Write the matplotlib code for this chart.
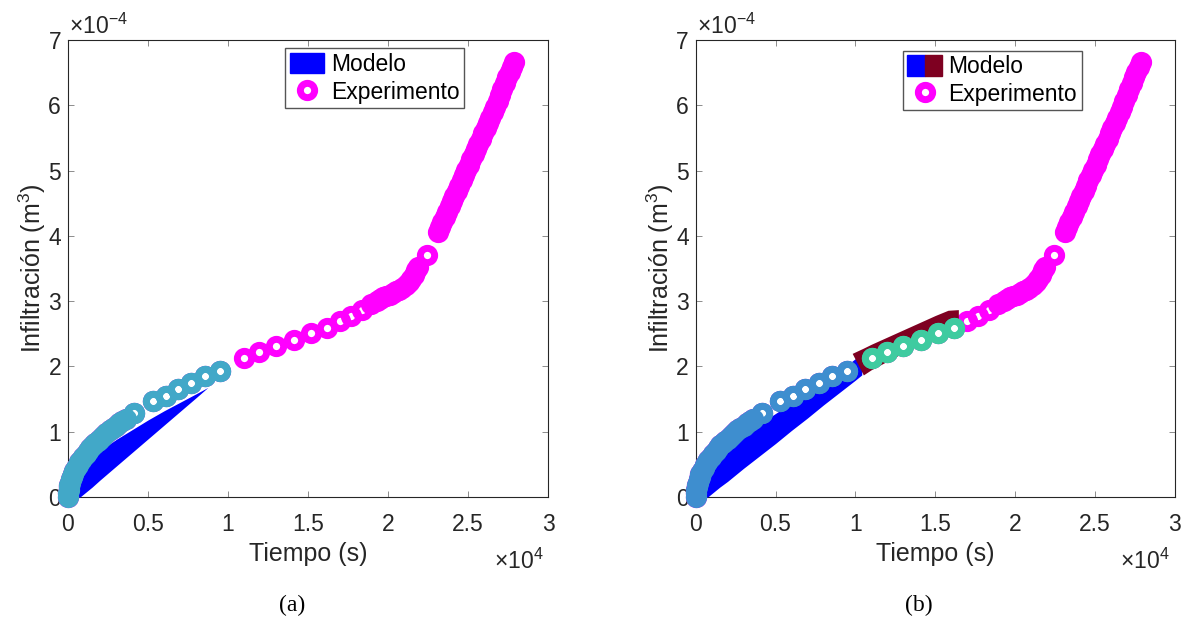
import numpy as np
import matplotlib
matplotlib.use("Agg")
import matplotlib.pyplot as plt
from matplotlib.patches import Patch
from matplotlib.lines import Line2D
from matplotlib.legend_handler import HandlerTuple
from matplotlib.ticker import FormatStrFormatter

plt.rcParams["font.family"] = ["Liberation Sans", "DejaVu Sans"]
plt.rcParams["mathtext.fontset"] = "custom"
plt.rcParams["mathtext.rm"] = "Liberation Sans"
plt.rcParams["mathtext.it"] = "Liberation Sans:italic"

# ensayo de infiltración: tiempo (s) e infiltración acumulada (x1e-4 m3)
exp_t = [0, 20, 40, 60, 90, 120, 180, 240, 300, 400, 500, 600, 700, 800, 950,
         1100, 1250, 1400, 1550, 1700, 1850, 2000, 2200, 2400, 2600, 2800,
         3000, 3200, 3400, 3600,
         4150, 5290, 6120, 6850, 7700, 8560, 9500,
         11020, 11960, 13000, 14120, 15180, 16190, 17000, 17700, 18400, 18920,
         19300, 19500, 19700, 19900, 20100, 20300, 20500, 20700, 20900, 21100,
         21300, 21450, 21600, 21750, 21900,
         22420,
         23100, 23250, 23400, 23550, 23700, 23850, 24000, 24150, 24300, 24450,
         24600, 24750, 24900, 25050, 25200, 25350, 25500, 25650, 25800, 25950,
         26100, 26250, 26400, 26550, 26700, 26850, 27000, 27150, 27300, 27450,
         27600, 27750, 27900]
exp_i = [0.00, 0.06, 0.11, 0.15, 0.19, 0.22, 0.27, 0.31, 0.35, 0.40, 0.45,
         0.49, 0.53, 0.57, 0.62,
         0.66, 0.71, 0.75, 0.79, 0.82, 0.86, 0.89, 0.94, 0.98, 1.02, 1.06,
         1.09, 1.13, 1.16, 1.20,
         1.29, 1.47, 1.55, 1.66, 1.74, 1.85, 1.93,
         2.13, 2.22, 2.31, 2.41, 2.51, 2.59, 2.70, 2.78, 2.86, 2.96,
         3.00, 3.03, 3.06, 3.08, 3.10, 3.12, 3.15, 3.17, 3.20, 3.24,
         3.29, 3.34, 3.40, 3.47, 3.53,
         3.71,
         4.06, 4.13, 4.21, 4.29, 4.37, 4.45, 4.53, 4.61, 4.69, 4.77,
         4.85, 4.93, 5.01, 5.09, 5.17, 5.25, 5.33, 5.41, 5.49, 5.57,
         5.65, 5.73, 5.81, 5.89, 5.98, 6.07, 6.16, 6.25, 6.34, 6.43,
         6.51, 6.59, 6.66]

# modelo (a): banda entre curva superior e inferior
mod_a_t = [0, 250, 750, 1000, 1500, 2000, 3000, 4000, 5000, 6000, 7000, 8000, 8750]
mod_a_sup = [0.00, 0.25, 0.45, 0.52, 0.62, 0.71, 0.88, 1.03, 1.18, 1.32, 1.45, 1.58, 1.68]
mod_a_inf = [0.00, 0.00, 0.00, 0.05, 0.15, 0.26, 0.47, 0.68, 0.89, 1.10, 1.31, 1.52, 1.68]

# modelo (b): dos tramos
mod_b1_t = [0, 250, 750, 1000, 1500, 2000, 3000, 4000, 5000, 6000, 7000, 8000, 9000, 10000, 10400]
mod_b1_sup = [0.00, 0.28, 0.50, 0.57, 0.69, 0.79, 0.96, 1.12, 1.28, 1.44, 1.60, 1.76, 1.93, 2.12, 2.18]
mod_b1_inf = [0.00, 0.00, 0.00, 0.05, 0.15, 0.24, 0.44, 0.63, 0.82, 1.02, 1.21, 1.41, 1.60, 1.79, 1.87]

mod_b2_t = [9800, 10500, 11000, 12000, 13000, 14000, 15000, 15800, 16450]
mod_b2_sup = [2.20, 2.28, 2.34, 2.45, 2.56, 2.67, 2.78, 2.86, 2.87]
mod_b2_inf = [2.20, 1.87, 1.95, 2.08, 2.21, 2.34, 2.47, 2.57, 2.66]

# ventanas de ajuste (s)
ajuste_1 = (0, 10000)
ajuste_2 = (10500, 16500)

MAGENTA = "#FF00FF"
AZUL = "#0000FF"
GRANATE = "#7E0021"
CIAN_A = "#42A8C8"
CIAN_B = "#3E8ECF"
VERDE = "#3FCBA0"
EJE = "#262626"

MS = 10.3
MEW = 5.0

t = np.array(exp_t) / 1e4
inf = np.array(exp_i)
t_s = np.array(exp_t)

# puntos sueltos: separados de sus vecinos más de 300 s
gap = np.diff(t_s)
aislado = np.minimum(np.r_[np.inf, gap], np.r_[gap, np.inf]) > 300


def circulos(ax, mask, color, fondo=False):
    # con fondo=True los puntos sueltos tapan con blanco lo que haya debajo
    if fondo:
        sel = mask & aislado
        ax.plot(t[sel], inf[sel], "o", ls="none", ms=MS, mew=MEW, mfc="white",
                mec=color, clip_on=False, zorder=3)
    ax.plot(t[mask], inf[mask], "o", ls="none", ms=MS, mew=MEW, mfc="none",
            mec=color, clip_on=False, zorder=3)


def estilo(ax):
    ax.set_xlim(0, 3)
    ax.set_ylim(0, 7)
    ax.set_xticks([0, 0.5, 1, 1.5, 2, 2.5, 3])
    ax.set_yticks(range(8))
    ax.xaxis.set_major_formatter(FormatStrFormatter("%g"))
    ax.yaxis.set_major_formatter(FormatStrFormatter("%g"))
    ax.tick_params(direction="in", length=4, width=0.7, top=True, right=True,
                   labelsize=16.5, labelcolor=EJE, color="#8c8c8c")
    ax.tick_params(axis="x", pad=11.5)
    ax.tick_params(axis="y", pad=5)
    for sp in ax.spines.values():
        sp.set_color(EJE)
        sp.set_linewidth(0.8)
    ax.set_xlabel("Tiempo (s)", fontsize=18, color=EJE, labelpad=4)
    ax.set_ylabel("Infiltración (m$^3$)", fontsize=18, color=EJE, labelpad=0)
    ax.annotate(r"$\times10^{-4}$", xy=(0, 1), xycoords="axes fraction",
                xytext=(1, 1), textcoords="offset points", ha="left",
                va="bottom", fontsize=16.5, color=EJE)
    ax.annotate(r"$\times10^{4}$", xy=(1, 0), xycoords="axes fraction",
                xytext=(-3.5, -52), textcoords="offset points", ha="right",
                va="baseline", fontsize=16.5, color=EJE)


fig = plt.figure(figsize=(11.85, 6.18), dpi=100)
ax_a = fig.add_axes([68 / 1185, 121 / 618, 480 / 1185, 457 / 618])
ax_b = fig.add_axes([695.7 / 1185, 121 / 618, 479 / 1185, 457 / 618])

todos = np.ones_like(t_s, dtype=bool)
m1 = (t_s >= ajuste_1[0]) & (t_s <= ajuste_1[1])
m2 = (t_s >= ajuste_2[0]) & (t_s <= ajuste_2[1])

# (a) un solo tramo
circulos(ax_a, todos, MAGENTA)
ax_a.fill_between(np.array(mod_a_t) / 1e4, mod_a_inf, mod_a_sup, color=AZUL,
                  lw=0, zorder=3)
circulos(ax_a, m1, CIAN_A, fondo=True)
estilo(ax_a)
h_exp = Line2D([], [], marker="o", ls="none", ms=MS, mew=MEW, mfc="none", mec=MAGENTA)
ax_a.legend([Patch(color=AZUL), h_exp], ["Modelo", "Experimento"],
            loc="upper right", bbox_to_anchor=(0.825, 0.982), fontsize=16.5,
            fancybox=False, edgecolor="#555555", framealpha=1,
            handlelength=1.5, handleheight=1.0, handletextpad=0.3,
            borderpad=0.2, borderaxespad=0, labelspacing=0.2)

# (b) dos tramos
circulos(ax_b, todos, MAGENTA)
ax_b.fill_between(np.array(mod_b1_t) / 1e4, mod_b1_inf, mod_b1_sup, color=AZUL,
                  lw=0, zorder=3)
ax_b.fill_between(np.array(mod_b2_t) / 1e4, mod_b2_inf, mod_b2_sup, color=GRANATE,
                  lw=0, zorder=3)
circulos(ax_b, m1, CIAN_B, fondo=True)
circulos(ax_b, m2, VERDE, fondo=True)
estilo(ax_b)
ax_b.legend([(Patch(color=AZUL), Patch(color=GRANATE)), h_exp],
            ["Modelo", "Experimento"],
            handler_map={tuple: HandlerTuple(ndivide=None, pad=0)},
            loc="upper right", bbox_to_anchor=(0.806, 0.977), fontsize=16.5,
            fancybox=False, edgecolor="#555555", framealpha=1,
            handlelength=1.5, handleheight=1.0, handletextpad=0.3,
            borderpad=0.2, borderaxespad=0, labelspacing=0.2)

fig.text(292 / 1185, 1 - 605 / 618, "(a)", ha="center", va="center",
         family="Liberation Serif", fontsize=17)
fig.text(919 / 1185, 1 - 605 / 618, "(b)", ha="center", va="center",
         family="Liberation Serif", fontsize=17)

fig.savefig("out.png", dpi=100)
